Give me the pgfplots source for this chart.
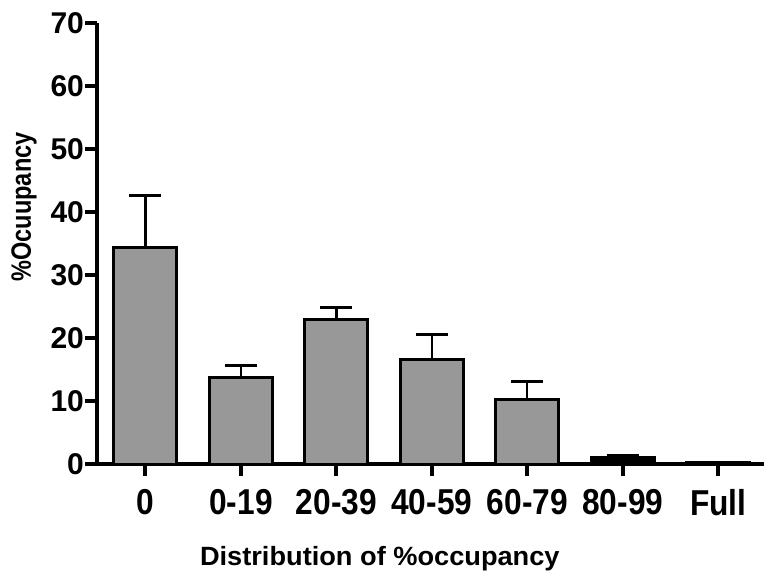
\documentclass[border=0pt]{standalone}
\usepackage{pgfplots}
\pgfplotsset{compat=1.18}
\usepackage{graphicx}
\usepackage{fontspec}
\setmainfont{Liberation Sans}
\definecolor{barfill}{RGB}{152,152,152}

\begin{document}
\begin{tikzpicture}
  \useasboundingbox (-48.5pt,-57.5pt) rectangle (333.5pt,232pt);
  \begin{axis}[
    scale only axis,
    width=333.5pt, height=220.5pt,
    xmin=-0.508, xmax=6.48,
    ymin=0, ymax=70,
    axis x line=bottom, axis y line=left,
    axis line style={-, line width=2pt},
    every tick/.style={black, line width=2pt},
    tick align=outside,
    major tick length=6pt,
    xtick={0,1,2,3,4,5,6},
    xticklabels={0,0-19,20-39,40-59,60-79,80-99,Full},
    ytick={0,10,20,30,40,50,60,70},
    minor tick num=0,
    /pgf/number format/assume math mode=true,
    xticklabel style={font=\fontsize{18}{18}\selectfont\bfseries, xscale=0.88, yshift=-3pt},
    yticklabel style={font=\fontsize{15}{15}\selectfont\bfseries, xshift=3pt},
    xlabel={\scalebox{1.03}[1]{Distribution of \%occupancy}},
    ylabel={\scalebox{0.84}[1]{\%Ocuupancy}},
    xlabel style={font=\fontsize{13.2}{13}\selectfont\bfseries, at={(axis description cs:0.424,-0.214)}, anchor=center},
    ylabel style={font=\fontsize{14}{14}\selectfont\bfseries, at={(axis description cs:-0.1094,0.583)}, anchor=center},
    clip=false,
    every axis plot/.append style={ybar, bar width=31.5pt, bar shift=0pt, draw=black, line width=1.5pt},
  ]
    \addplot[fill=barfill,
      error bars/.cd, y dir=plus, y explicit, error mark=|,
      error bar style={line width=1.2pt, black},
      error mark options={line width=1.5pt, mark size=8pt, black}]
      coordinates {
        (0, 34.4) +- (0, 8.2)
        (1, 13.8) +- (0, 1.9)
        (2, 22.9) +- (0, 2.0)
        (3, 16.6) +- (0, 3.9)
        (4, 10.3) +- (0, 2.8)
        (6, 0.3)  +- (0, 0.0)
      };
    % 80-99 bar is so short it reads as solid black in the original
    \addplot[fill=black,
      error bars/.cd, y dir=plus, y explicit, error mark=|,
      error bar style={line width=1.2pt, black},
      error mark options={line width=1.5pt, mark size=8pt, black}]
      coordinates {
        (5, 1.0) +- (0, 0.4)
      };
  \end{axis}
\end{tikzpicture}
\end{document}
